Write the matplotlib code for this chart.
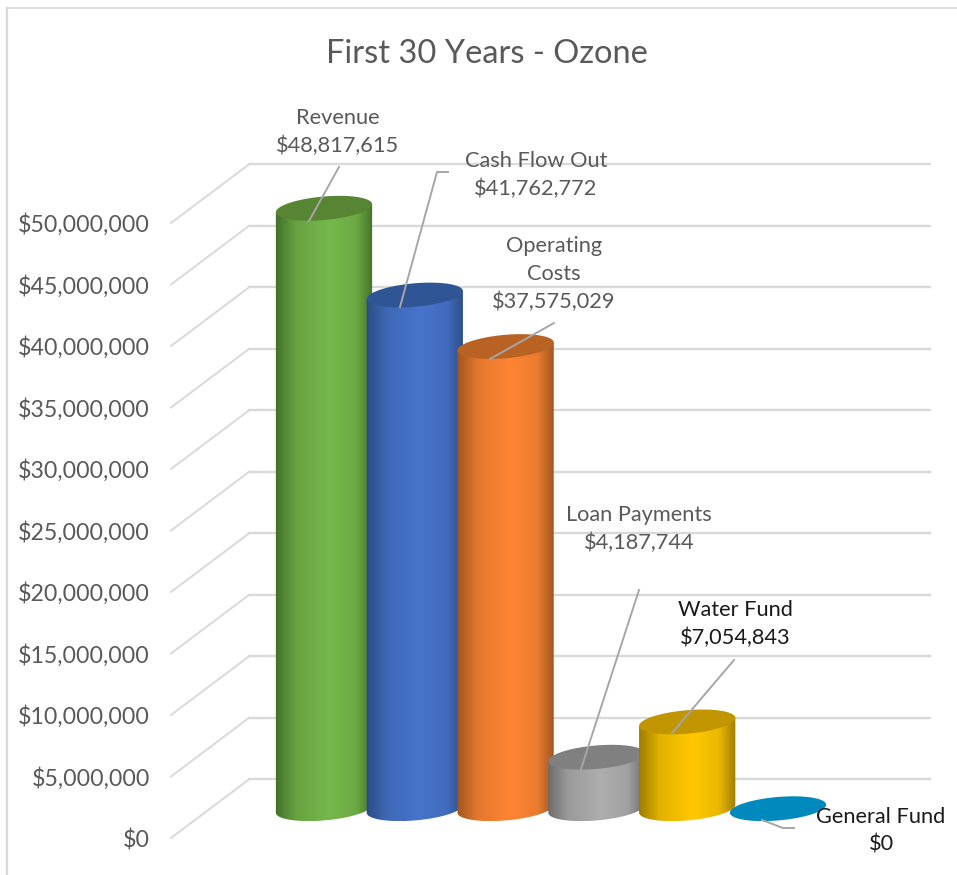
import matplotlib
matplotlib.use("Agg")
import matplotlib.pyplot as plt
import numpy as np
from matplotlib.colors import LinearSegmentedColormap, to_rgb
from matplotlib.patches import Polygon
from matplotlib.transforms import Affine2D

categories = ["Revenue", "Cash Flow Out", "Operating\nCosts", "Loan Payments", "Water Fund", "General Fund"]
values = [48817615, 41762772, 37575029, 4187744, 7054843, 0]
axis_ticks = [0, 5000000, 10000000, 15000000, 20000000, 25000000,
              30000000, 35000000, 40000000, 45000000, 50000000]

# shade at the edge, shade in the middle, colour of the cap
bar_edges = ["#436f2a", "#2b4c84", "#9c5420", "#6a6a6a", "#9a7a00", "#0089bd"]
bar_mids = ["#76b84b", "#4774cc", "#ff8533", "#aeaeae", "#ffc800", "#0089bd"]
bar_caps = ["#588534", "#305595", "#b86224", "#808080", "#c09500", "#0089bd"]

W, H = 957, 875
DPI = 100
PX_PER_DOLLAR = 12.3e-6
BASE_Y = 808.7
FLOOR_DEPTH = 29.3
BAR_X0 = 324
BAR_STEP = 90.8
RX, RY, TILT = 48.3, 11.7, np.radians(5)

TEXT_GREY = "#595959"
GRID = "#d9d9d9"
LEADER = "#a6a6a6"

plt.rcParams["font.family"] = ["Lato", "DejaVu Sans"]

fig = plt.figure(figsize=(W / DPI, H / DPI), dpi=DPI)
ax = fig.add_axes([0, 0, 1, 1])
ax.set_xlim(0, W)
ax.set_ylim((BASE_Y - H) / PX_PER_DOLLAR, BASE_Y / PX_PER_DOLLAR)
ax.axis("off")

# pixel space from the top left, for annotations
pix = Affine2D().scale(1, -1).translate(0, H)


def px(dy):
    return dy / PX_PER_DOLLAR


def mix(a, b, f):
    return tuple((1 - f) * p + f * q for p, q in zip(to_rgb(a), to_rgb(b)))


def ellipse_pts(cx, value):
    t = np.linspace(0, 2 * np.pi, 241)
    x = cx + RX * np.cos(t) * np.cos(TILT) - RY * np.sin(t) * np.sin(TILT)
    y = value + px(RX * np.cos(t) * np.sin(TILT) + RY * np.sin(t) * np.cos(TILT))
    return x, y


def draw_cylinder(cx, value, edge, mid, cap, zorder):
    if value > 0:
        x, y = ellipse_pts(cx, 0)
        left, right = np.argmin(x), np.argmax(x)
        t_idx = np.arange(len(x))
        # walk the lower rim from the left extreme to the right one
        if left < right:
            low = t_idx[left:right + 1]
        else:
            low = np.r_[t_idx[left:], t_idx[:right + 1]]
        xs = np.r_[x[low], x[right], x[left]]
        ys = np.r_[y[low], y[right] + value, y[left] + value]
        body = Polygon(np.c_[xs, ys], closed=True, fc="none", ec="none", zorder=zorder)
        ax.add_patch(body)
        cmap = LinearSegmentedColormap.from_list(
            "shade", [(0, edge), (0.22, mix(edge, mid, 0.72)), (0.55, mid), (0.82, mix(edge, mid, 0.8)), (1, edge)])
        grad = np.linspace(0, 1, 256).reshape(1, -1)
        im = ax.imshow(grad, cmap=cmap, aspect="auto", zorder=zorder,
                       extent=(cx - RX - 1, cx + RX + 1, y.min(), y.max() + value))
        im.set_clip_path(body)
    x, y = ellipse_pts(cx, value)
    ax.fill(x, y, color=cap, lw=0, zorder=zorder + 0.1)


# back wall gridlines and the slanted floor side
for tick in axis_ticks:
    ax.plot([249, 930], [tick + px(FLOOR_DEPTH)] * 2, color=GRID, lw=1.7, zorder=1)
    ax.plot([171, 249], [tick - px(FLOOR_DEPTH), tick + px(FLOOR_DEPTH)], color=GRID, lw=1.4, zorder=1)
    ax.text(150, tick - px(FLOOR_DEPTH + 2), f"${tick:,}", ha="right", va="center",
            fontsize=16.7, color=TEXT_GREY, zorder=5)

centers = [BAR_X0 + i * BAR_STEP for i in range(len(values))]
for i, (cx, v) in enumerate(zip(centers, values)):
    draw_cylinder(cx, v, bar_edges[i], bar_mids[i], bar_caps[i], 2 + i)

# chart frame
ax.plot([7, 7], [H, 8], color=GRID, lw=1.7, transform=pix, zorder=1, clip_on=False)
ax.plot([7, W], [8, 8], color=GRID, lw=1.2, transform=pix, zorder=1, clip_on=False)

ax.text(487, 54, "First 30 Years - Ozone", transform=pix, ha="center", va="center",
        fontsize=23.5, color=TEXT_GREY)

# data labels with their leader lines
label_xy = [(338, 132), (536, 175), (554, 274), (639, 529), (735, 624), (881, 831)]
label_colors = [TEXT_GREY, TEXT_GREY, TEXT_GREY, TEXT_GREY, "#1a1a1a", "#1a1a1a"]
leaders = [
    [(339, 167), (309, 221)],
    [(448, 172), (437, 172), (400, 307)],
    [(554, 323), (490, 359)],
    [(639, 590), (581, 769)],
    [(734, 660), (672, 733)],
    [(762, 820), (783, 828), (794, 828)],
]
for name, v, (lx, ly), col, pts in zip(categories, values, label_xy, label_colors, leaders):
    ax.text(lx, ly, f"{name}\n${v:,}", transform=pix, ha="center", va="center",
            fontsize=15.7, color=col, linespacing=1.47, zorder=20)
    xs, ys = zip(*pts)
    ax.plot(xs, ys, color=LEADER, lw=1.4, transform=pix, zorder=15)

fig.savefig("out.png", dpi=DPI)
plt.close(fig)
